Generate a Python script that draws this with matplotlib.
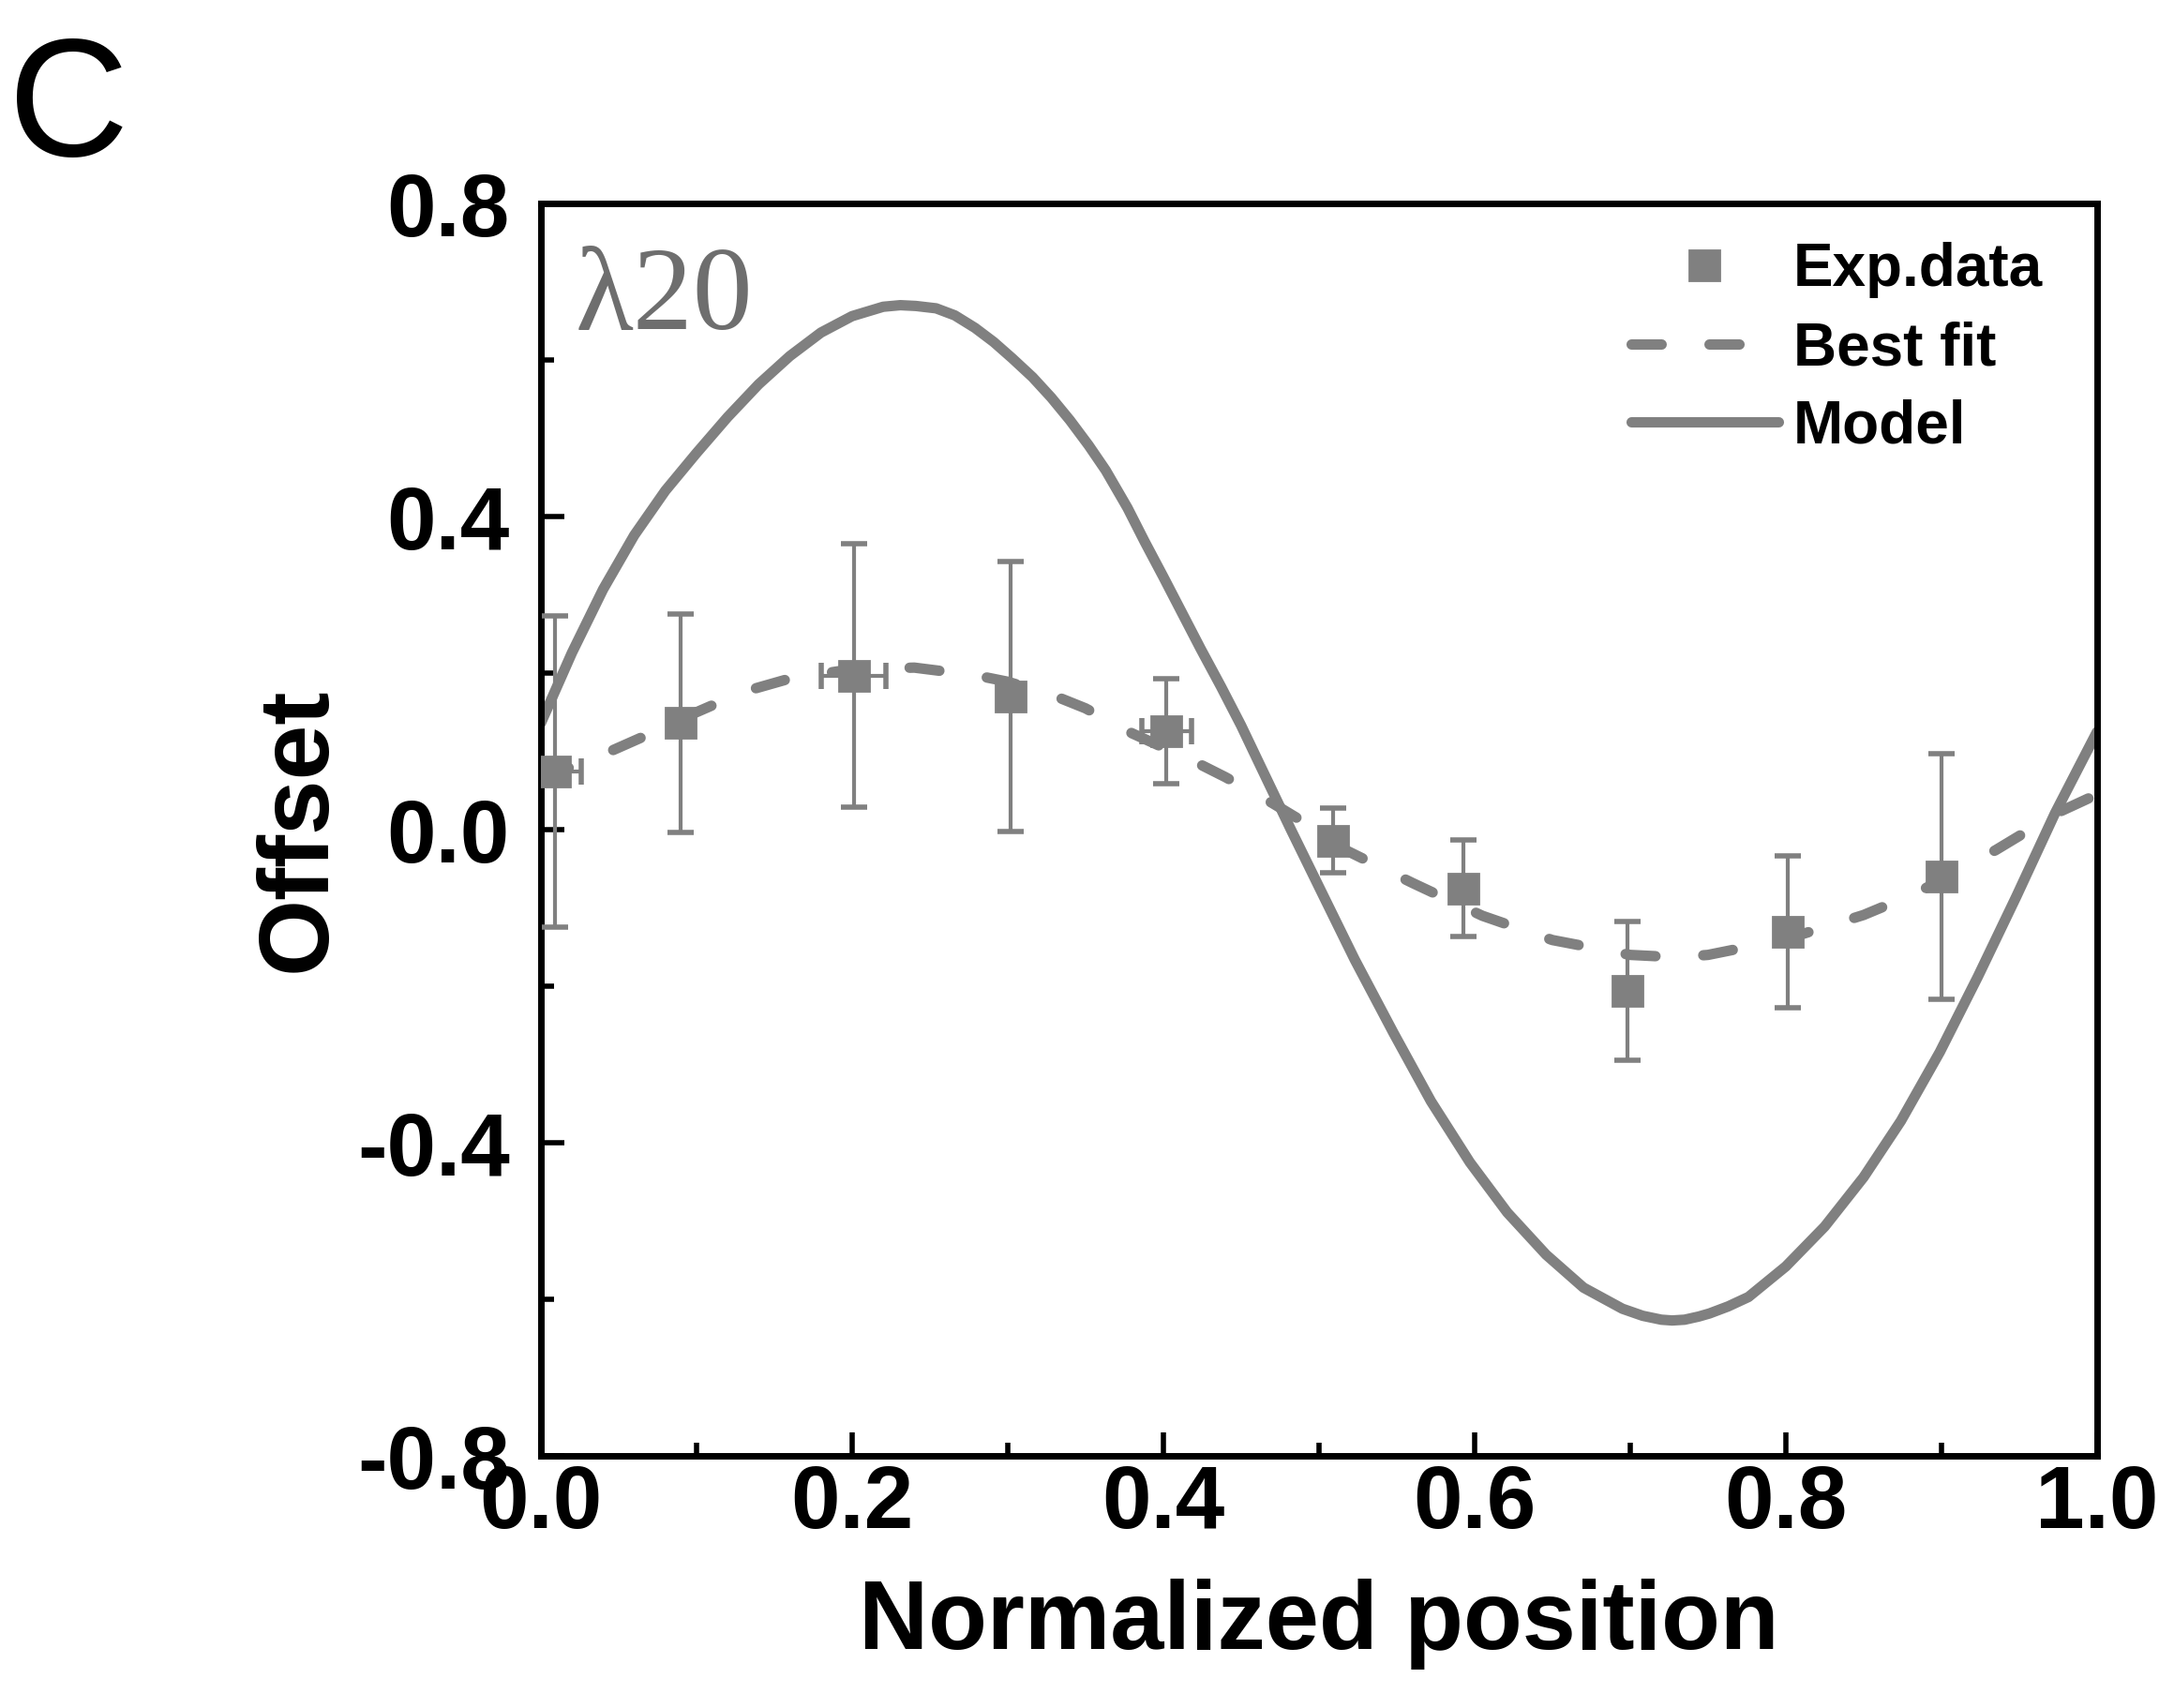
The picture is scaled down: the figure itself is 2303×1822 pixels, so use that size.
import matplotlib
matplotlib.use("Agg")
import matplotlib.pyplot as plt
from matplotlib.ticker import MultipleLocator

# Số liệu (điểm thực nghiệm)
exp_x = [0.009, 0.090, 0.201, 0.302, 0.402, 0.509, 0.593, 0.698, 0.801, 0.900]
exp_y = [0.074, 0.136, 0.197, 0.170, 0.126, -0.014, -0.075, -0.206, -0.130, -0.060]
exp_yerr = [0.199, 0.140, 0.168, 0.172, 0.067, 0.041, 0.062, 0.089, 0.097, 0.157]
exp_xerr = [0.017, 0.0, 0.021, 0.0, 0.016, 0.0, 0.0, 0.0, 0.0, 0.0]

# Đường "Best fit" (nét đứt)
fit_x = [0.0, 0.04, 0.065, 0.10, 0.13, 0.16, 0.20, 0.24, 0.28, 0.30, 0.33, 0.35,
         0.38, 0.42, 0.44, 0.47, 0.49, 0.515, 0.56, 0.605, 0.65, 0.70, 0.73,
         0.75, 0.80, 0.85, 0.885, 0.935, 0.975, 1.0]
fit_y = [0.065, 0.096, 0.118, 0.150, 0.176, 0.193, 0.205, 0.207, 0.197, 0.189,
         0.171, 0.155, 0.123, 0.087, 0.067, 0.034, 0.010, -0.024, -0.068, -0.110,
         -0.141, -0.160, -0.163, -0.160, -0.140, -0.109, -0.080, -0.026, 0.022, 0.045]

# Đường "Model" (nét liền)
model_x = [0.0, 0.020, 0.040, 0.060, 0.080, 0.100, 0.120, 0.140, 0.160, 0.180,
           0.200, 0.220, 0.231, 0.241, 0.254, 0.266, 0.279, 0.291, 0.303, 0.316,
           0.328, 0.340, 0.352, 0.363, 0.377, 0.388, 0.400, 0.412, 0.424, 0.437,
           0.450, 0.462, 0.482, 0.501, 0.523, 0.548, 0.572, 0.597, 0.621, 0.646,
           0.670, 0.695, 0.708, 0.720, 0.727, 0.735, 0.744, 0.751, 0.763, 0.776,
           0.800, 0.825, 0.850, 0.874, 0.899, 0.9235, 0.948, 0.973, 0.987, 1.0]
model_y = [0.136, 0.226, 0.307, 0.376, 0.433, 0.481, 0.527, 0.569, 0.605, 0.635,
           0.656, 0.668, 0.670, 0.669, 0.666, 0.657, 0.641, 0.623, 0.602, 0.578,
           0.552, 0.523, 0.491, 0.459, 0.411, 0.368, 0.323, 0.277, 0.231, 0.183,
           0.133, 0.083, 0.000, -0.077, -0.166, -0.260, -0.347, -0.425, -0.489, -0.543,
           -0.585, -0.612, -0.621, -0.626, -0.627, -0.626, -0.622, -0.618, -0.609, -0.597,
           -0.558, -0.507, -0.444, -0.372, -0.284, -0.1875, -0.086, 0.021, 0.075, 0.125]

x_ticks = [0.0, 0.2, 0.4, 0.6, 0.8, 1.0]
y_ticks = [-0.8, -0.4, 0.0, 0.4, 0.8]

grey = "#808080"

plt.rcParams['font.family'] = ['Liberation Sans', 'DejaVu Sans']
plt.rcParams['axes.unicode_minus'] = False
plt.rcParams['lines.scale_dashes'] = False

fig = plt.figure(figsize=(11.515, 9.11), dpi=200)
ax = fig.add_axes([0.2505, 0.1476, 0.7208, 0.7333])

ax.plot(model_x, model_y, color=grey, lw=4, solid_capstyle='round',
        solid_joinstyle='round', label='Model', zorder=2)
ax.plot(fit_x, fit_y, color=grey, lw=4, dashes=(11.5, 18.4), dash_capstyle='round',
        label='Best fit', zorder=2)
ax.errorbar(exp_x, exp_y, yerr=exp_yerr, xerr=exp_xerr, fmt='none', ecolor=grey,
            elinewidth=1.5, capsize=5, capthick=2, zorder=3)
ax.plot(exp_x, exp_y, 's', color=grey, ms=11.5, mec=grey, label='Exp.data', zorder=4)

ax.set_xlim(0, 1.0)
ax.set_ylim(-0.8, 0.8)
ax.set_xticks(x_ticks)
ax.set_yticks(y_ticks)
ax.xaxis.set_minor_locator(MultipleLocator(0.1))
ax.yaxis.set_minor_locator(MultipleLocator(0.2))
ax.set_xticklabels([f"{v:.1f}" for v in x_ticks])
ax.set_yticklabels([f"{v:.1f}" for v in y_ticks])

for s in ax.spines.values():
    s.set_linewidth(2.5)
ax.tick_params(which='major', direction='in', length=9, width=2, top=False, right=False,
               labelsize=34)
ax.tick_params(which='minor', direction='in', length=5, width=2, top=False, right=False)
ax.tick_params(axis='x', which='major', pad=3)
ax.tick_params(axis='y', which='major', pad=12)
for lab in ax.get_xticklabels() + ax.get_yticklabels():
    lab.set_fontweight('bold')

ax.set_xlabel("Normalized position", fontsize=37, fontweight='bold', labelpad=12)
ax.set_ylabel("Offset", fontsize=38, fontweight='bold', labelpad=4.5)

ax.text(0.022, 0.639, "λ20", transform=ax.transData, fontsize=46, color="#6e6e6e",
        family=['Liberation Serif', 'DejaVu Serif'], va='baseline', ha='left')

handles, labels = ax.get_legend_handles_labels()
order = [2, 1, 0]
ax.legend([handles[i] for i in order], [labels[i] for i in order],
          loc='upper right', bbox_to_anchor=(0.965, 0.969), frameon=False,
          prop={'size': 23, 'weight': 'bold'}, handlelength=2.45, handletextpad=0.25,
          labelspacing=0.37, borderpad=0, borderaxespad=0)

fig.text(0.004, 0.909, "C", fontsize=64, va='baseline', ha='left')

fig.savefig("out.png", dpi=200)
